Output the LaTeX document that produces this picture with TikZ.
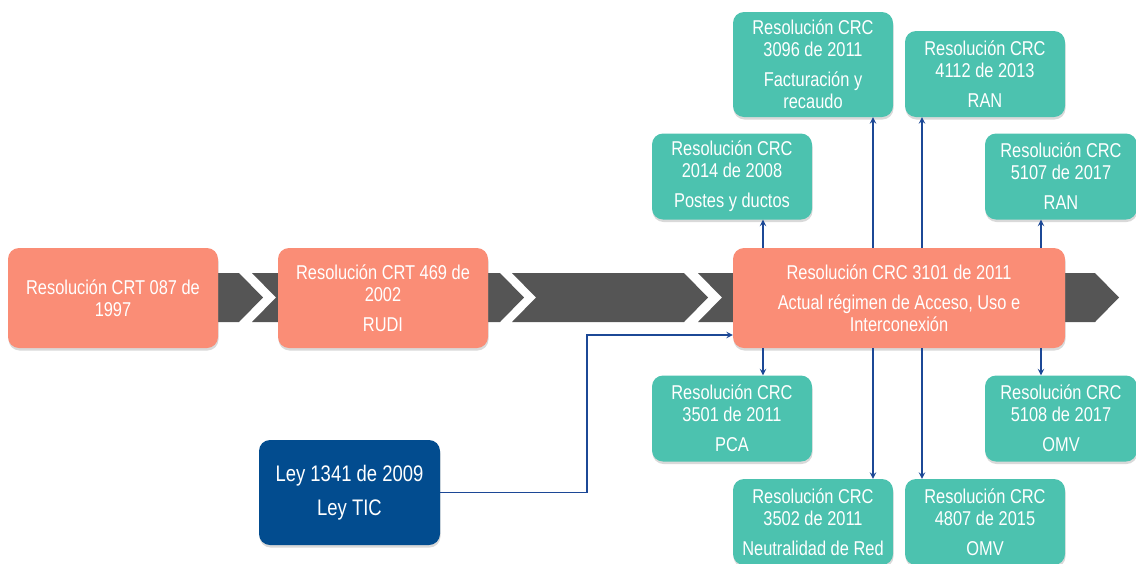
\documentclass[tikz,border=0pt]{standalone}
\usepackage{fontspec}
\setmainfont[FakeStretch=0.82]{Liberation Sans}
\usetikzlibrary{shadows}

\definecolor{salmon}{RGB}{250,141,118}
\definecolor{crcgreen}{RGB}{76,194,175}
\definecolor{leyblue}{RGB}{2,76,143}
\definecolor{bandgray}{RGB}{85,85,85}
\definecolor{linkblue}{RGB}{28,72,150}

\begin{document}
\begin{tikzpicture}[x=1pt,y=-1pt,>=stealth,
        box/.style={rounded corners=11pt, text=white, align=center, inner sep=0pt,
                font=\fontsize{20}{22}\selectfont,
                drop shadow={opacity=.3,shadow xshift=.5pt,shadow yshift=-2.5pt}},
        crt/.style={box, fill=salmon, minimum height=100pt},
        crc/.style={box, fill=crcgreen, minimum width=160pt, minimum height=86pt},
        ley/.style={box, fill=leyblue, font=\fontsize{22.5}{34}\selectfont},
        band/.style={fill=bandgray},
        link/.style={->, draw=linkblue, line width=1.8pt}]
        \useasboundingbox (0,0) rectangle (1136,563);

        % timeline band
        \foreach \l/\r in {100/239,252/500,512/684,698/1095}
                \fill[band] (\l,273) -- (\r,273) -- (\r+24,297.5) -- (\r,322)
                        -- (\l,322) -- (\l+24,297.5) -- cycle;

        \node[crt, minimum width=210pt] (a) at (113,298) {Resolución CRT 087 de\\ 1997};
        \node[crt, minimum width=210pt] (b) at (383,298) {Resolución CRT 469 de\\ 2002\\[8pt] RUDI};
        \node[crt, minimum width=332pt] (c) at (899,298)
                {Resolución CRC 3101 de 2011\\[8pt] Actual régimen de Acceso, Uso e\\ Interconexión};

        \node[crc, minimum height=105pt] (g1) at (813,64.5) {Resolución CRC\\ 3096 de 2011\\[8pt] Facturación y\\ recaudo};
        \node[crc] (g2) at (985,74) {Resolución CRC\\ 4112 de 2013\\[8pt] RAN};
        \node[crc] (g3) at (732,176.5) {Resolución CRC\\ 2014 de 2008\\[8pt] Postes y ductos};
        \node[crc, minimum width=152pt] (g4) at (1061,176.5) {Resolución CRC\\ 5107 de 2017\\[8pt] RAN};
        \node[crc] (g5) at (732,418.5) {Resolución CRC\\ 3501 de 2011\\[8pt] PCA};
        \node[crc, minimum width=152pt] (g6) at (1061,418.5) {Resolución CRC\\ 5108 de 2017\\[8pt] OMV};
        \node[crc] (g7) at (813,522) {Resolución CRC\\ 3502 de 2011\\[8pt] Neutralidad de Red};
        \node[crc] (g8) at (985,522) {Resolución CRC\\ 4807 de 2015\\[8pt] OMV};

        \node[ley, minimum width=181pt, minimum height=105pt] (tic) at (349.5,492.5) {Ley 1341 de 2009\\ Ley TIC};

        \coordinate (v1) at (763,0);
        \coordinate (v2) at (873,0);
        \coordinate (v3) at (922,0);
        \coordinate (v4) at (1041,0);
        \coordinate (bend) at (587,335);

        \draw[link] (tic.east) -| (bend) -- (c.west |- bend);
        \draw[link] (c.north -| v1) -- (g3.south -| v1);
        \draw[link] (c.south -| v1) -- (g5.north -| v1);
        \draw[link] (c.north -| v2) -- (g1.south -| v2);
        \draw[link] (c.south -| v2) -- (g7.north -| v2);
        \draw[link] (c.north -| v3) -- (g2.south -| v3);
        \draw[link] (c.south -| v3) -- (g8.north -| v3);
        \draw[link] (c.north -| v4) -- (g4.south -| v4);
        \draw[link] (c.south -| v4) -- (g6.north -| v4);
\end{tikzpicture}
\end{document}
